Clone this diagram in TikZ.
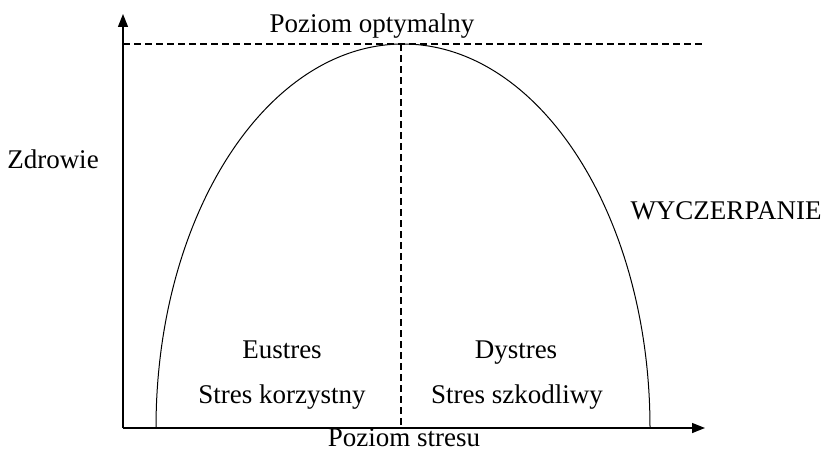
\documentclass[tikz,border=0pt]{standalone}
\usepackage{fontspec}
\setmainfont{Liberation Serif}
\usepackage{tikz}
\usetikzlibrary{arrows.meta,positioning}

\begin{document}
\begin{tikzpicture}[x=1pt,y=1pt,
  lbl/.style={anchor=base, inner sep=0pt, font=\fontsize{27}{31}\selectfont},
  axis/.style={line width=1.4pt, -{Triangle[length=13pt,width=10pt]}},
  guide/.style={line width=1.2pt, dash pattern=on 7pt off 4pt}]
\useasboundingbox (0,0) rectangle (824,451);
% Points
\coordinate (O) at (123,23);
\coordinate (ytop) at (123,437);
\coordinate (xend) at (705,23);
\coordinate (optL) at (123,407);
\coordinate (optR) at (705,407);
\coordinate (peak) at (401,407);
\coordinate (mid) at (401,23);
\coordinate (footL) at (156,23);

% Curve
\draw[line width=1pt] (footL) arc[start angle=180, end angle=0, x radius=247, y radius=384];

% Dashed lines
\draw[guide] (optL) -- (optR);
\draw[guide] (peak) -- (mid);

% Axes
\draw[axis] (O) -- (ytop);
\draw[axis] (O) -- (xend);

% Nodes
\node[lbl] (opt) at (372,418) {Poziom optymalny};
\node[lbl] (health) at (53,283) {Zdrowie};
\node[lbl] (exhaust) at (726,232) {WYCZERPANIE};
\node[lbl] (eu) at (282,93) {Eustres};
\node[lbl] (euinfo) at (282,48) {Stres korzystny};
\node[lbl] (dys) at (516,93) {Dystres};
\node[lbl] (dysinfo) at (517,48) {Stres szkodliwy};
\node[lbl] (stress) at (404,5) {Poziom stresu};
\end{tikzpicture}
\end{document}
